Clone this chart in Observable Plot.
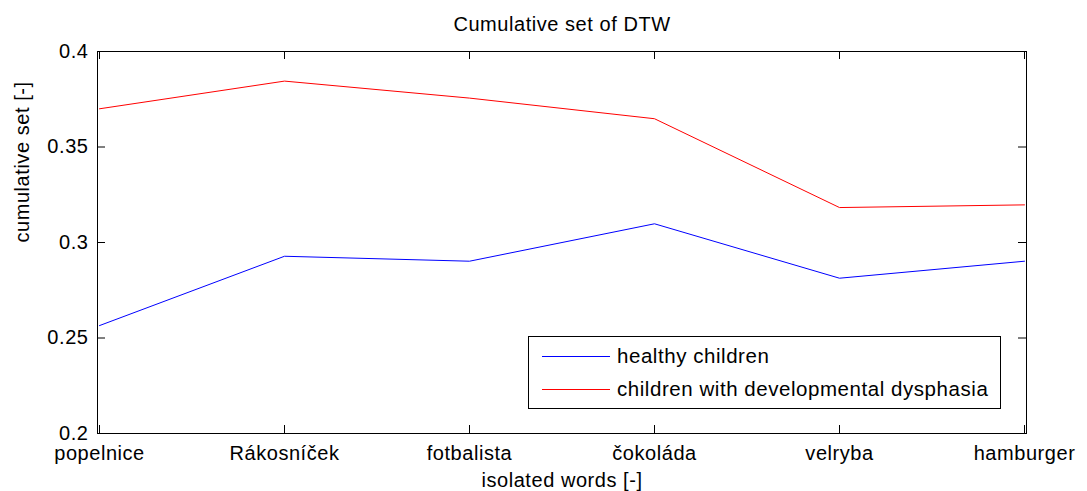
<!DOCTYPE html>
<html><head><meta charset="utf-8">
<script src="https://cdn.jsdelivr.net/npm/d3@7"></script>
<script src="https://cdn.jsdelivr.net/npm/@observablehq/plot@0.6"></script>
<style>
body{margin:0;background:#fff;}
#wrap{position:relative;width:1087px;height:491px;font-family:"Liberation Sans",Arial,sans-serif;color:#000;}
#wrap svg text{letter-spacing:0.55px;}
#legend{position:absolute;left:528px;top:336px;width:473px;height:73px;border:1px solid #000;background:#fff;box-sizing:border-box;font-size:20.5px;letter-spacing:0.55px;}
.lrow{position:absolute;left:0;height:24px;line-height:24px;white-space:nowrap;}
.lsw{position:absolute;left:13px;width:68px;top:12px;height:0;border-top:1px solid;}
.ltx{position:absolute;left:88px;top:0;}
</style></head><body><div id="wrap"></div>
<script>
const title = "Cumulative set of DTW";
const xLabel = "isolated words [-]";
const yLabel = "cumulative set [-]";
const words = ["popelnice", "Rákosníček", "fotbalista", "čokoláda", "velryba", "hamburger"];
const healthy = [0.2565, 0.2928, 0.2902, 0.3098, 0.2813, 0.2902];
const dysphasia = [0.3700, 0.3845, 0.3756, 0.3648, 0.3183, 0.3197];
const yTicks = [0.2, 0.25, 0.3, 0.35, 0.4];
const seriesNames = ["healthy children", "children with developmental dysphasia"];
const seriesColors = ["#0000ff", "#ff0000"];

const data = words.flatMap((w, i) => [
  {word: w, value: healthy[i], series: seriesNames[0]},
  {word: w, value: dysphasia[i], series: seriesNames[1]}
]);

const W = 1087, H = 491, mL = 97, mR = 61, mT = 51, mB = 58;
const pw = W - mL - mR, ph = H - mT - mB, tk = 8;

const chart = Plot.plot({
  width: W, height: H,
  marginLeft: mL, marginRight: mR, marginTop: mT, marginBottom: mB,
  style: {fontFamily: "Liberation Sans, Arial, sans-serif", fontSize: "20px", background: "#fff", color: "#000"},
  x: {type: "point", domain: words, padding: 0, label: null},
  y: {domain: [0.2, 0.4], label: null},
  color: {domain: seriesNames, range: seriesColors},
  marks: [
    Plot.line(data, {x: "word", y: "value", z: "series", stroke: "series", strokeWidth: 1}),
    Plot.frame({stroke: "#000", strokeWidth: 1}),
    Plot.tickX(words, {x: d => d, insetTop: ph - tk, stroke: "#000"}),
    Plot.tickX(words, {x: d => d, insetBottom: ph - tk, stroke: "#000"}),
    Plot.tickY(yTicks, {y: d => d, insetRight: pw - tk, stroke: "#000"}),
    Plot.tickY(yTicks, {y: d => d, insetLeft: pw - tk, stroke: "#000"}),
    Plot.axisY({ticks: yTicks, tickSize: 0, tickPadding: 9, tickFormat: d => String(d), fontSize: 20}),
    Plot.axisX({tickSize: 0, tickPadding: 12, fontSize: 20}),
    Plot.text([title], {frameAnchor: "top", lineAnchor: "middle", dy: -27, fontSize: 20, text: d => d}),
    Plot.text([xLabel], {frameAnchor: "bottom", lineAnchor: "middle", dy: 47, fontSize: 20, text: d => d}),
    Plot.text([yLabel], {frameAnchor: "left", lineAnchor: "middle", dx: -75, rotate: -90, fontSize: 20, text: d => d})
  ]
});

const wrap = document.getElementById("wrap");
wrap.appendChild(chart);

const legend = document.createElement("div");
legend.id = "legend";
seriesNames.forEach((name, i) => {
  const row = document.createElement("div");
  row.className = "lrow";
  row.style.top = (7 + i * 33) + "px";
  row.style.width = "100%";
  const sw = document.createElement("div");
  sw.className = "lsw";
  sw.style.borderTopColor = seriesColors[i];
  const tx = document.createElement("div");
  tx.className = "ltx";
  tx.textContent = name;
  row.appendChild(sw); row.appendChild(tx);
  legend.appendChild(row);
});
wrap.appendChild(legend);
</script>
</body></html>
